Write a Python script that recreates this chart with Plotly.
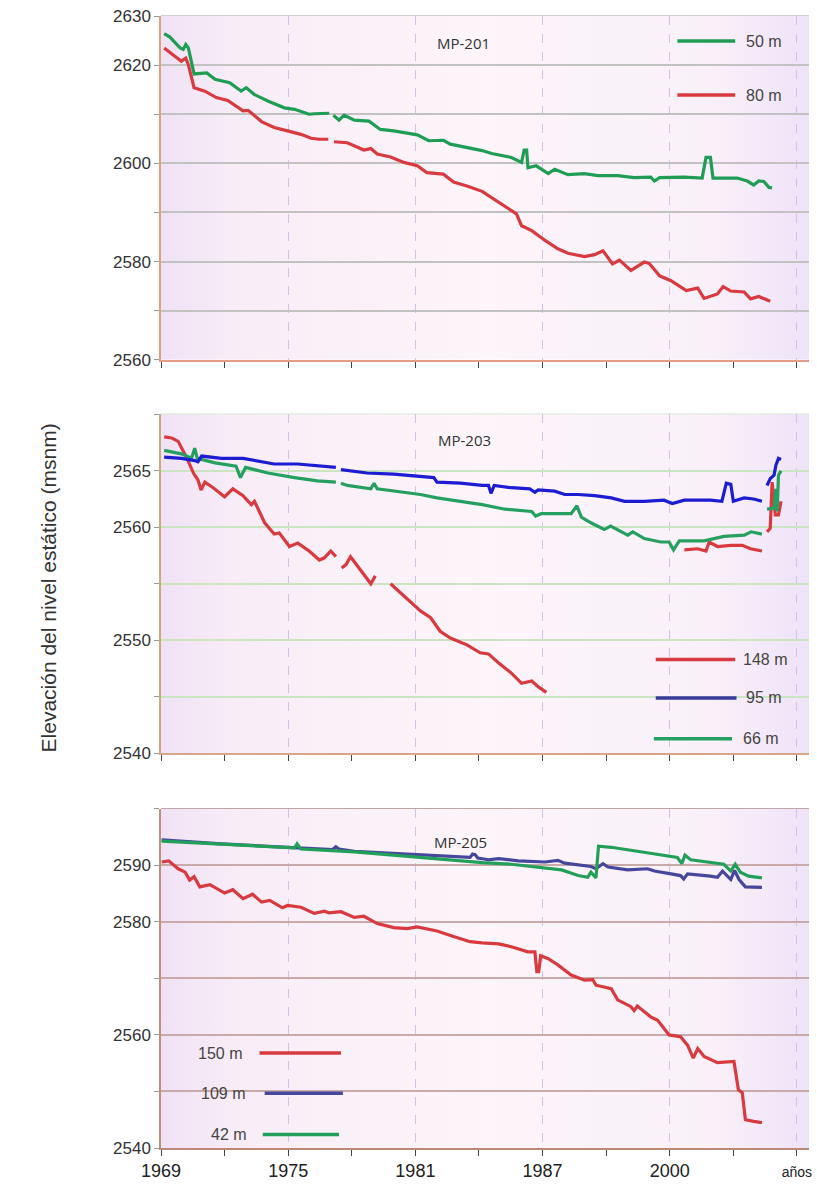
import base64
import plotly.graph_objects as go

# ---------------- data (x = position on the time axis, in tick units) ----------------
x_tickvals = [0, 2, 4, 6, 8, 10]
x_ticktext = ["1969", "1975", "1981", "1987", "2000", "<span style='font-size:14px'>años</span>"]
x_minor = [1, 3, 5, 7, 9]

# MP-201
mp201_50_x = [0.05, 0.14, 0.30, 0.35, 0.39, 0.43, 0.52, 0.72, 0.85, 0.98, 1.08, 1.26, 1.34, 1.47, 1.68, 1.94,
              2.10, 2.33, 2.41, 2.645, None, 2.71, 2.80, 2.88, 3.04, 3.27, 3.45, 3.66, 4.03, 4.21, 4.44, 4.55,
              4.81, 5.05, 5.20, 5.51, 5.67, 5.71, 5.75, 5.77, 5.90, 6.09, 6.19, 6.40, 6.66, 6.87, 7.18, 7.44,
              7.70, 7.76, 7.84, 8.23, 8.51, 8.57, 8.64, 8.68, 9.06, 9.22, 9.32, 9.40, 9.48, 9.56, 9.61]
mp201_50_y = [2626.4, 2625.7, 2623.5, 2623.2, 2624.2, 2623.5, 2618.2, 2618.4, 2617.1, 2616.7, 2616.4, 2614.7,
              2615.4, 2614.0, 2612.7, 2611.3, 2611.0, 2610.0, 2610.1, 2610.2, None, 2609.8, 2608.8, 2609.8,
              2608.8, 2608.6, 2606.9, 2606.6, 2605.8, 2604.6, 2604.7, 2603.9, 2603.2, 2602.6, 2602.0, 2601.2,
              2600.2, 2602.7, 2602.7, 2599.1, 2599.5, 2597.9, 2598.8, 2597.7, 2597.9, 2597.5, 2597.5, 2597.1,
              2597.2, 2596.4, 2597.1, 2597.2, 2597.0, 2601.2, 2601.2, 2597.0, 2597.0, 2596.4, 2595.6, 2596.4,
              2596.3, 2595.1, 2595.0]
mp201_80_x = [0.05, 0.17, 0.32, 0.39, 0.43, 0.52, 0.69, 0.87, 1.05, 1.29, 1.37, 1.58, 1.78, 1.99, 2.20, 2.36,
              2.49, 2.63, None, 2.72, 2.93, 3.19, 3.30, 3.40, 3.61, 3.82, 4.03, 4.18, 4.44, 4.60, 4.81, 5.05,
              5.31, 5.59, 5.67, 5.83, 6.04, 6.24, 6.40, 6.66, 6.82, 6.95, 7.10, 7.21, 7.39, 7.60, 7.68, 7.84,
              8.02, 8.17, 8.26, 8.44, 8.54, 8.75, 8.84, 8.96, 9.17, 9.27, 9.40, 9.58]
mp201_80_y = [2623.5, 2622.3, 2620.8, 2621.4, 2620.1, 2615.4, 2614.7, 2613.4, 2612.8, 2610.7, 2610.8, 2608.5,
              2607.3, 2606.6, 2605.9, 2605.1, 2604.9, 2604.9, None, 2604.4, 2604.2, 2602.7, 2603.0, 2601.9,
              2601.3, 2600.2, 2599.5, 2598.1, 2597.8, 2596.2, 2595.4, 2594.3, 2592.0, 2589.7, 2587.3, 2586.3,
              2584.3, 2582.6, 2581.7, 2581.0, 2581.4, 2582.2, 2579.5, 2580.3, 2578.2, 2579.9, 2579.6, 2577.1,
              2576.1, 2574.8, 2574.1, 2574.6, 2572.5, 2573.4, 2574.9, 2574.0, 2573.8, 2572.4, 2572.9, 2571.9]

# MP-203
mp203_148_x = [0.05, 0.17, 0.27, 0.40, 0.51, 0.58, 0.63, 0.69, 0.82, 1.00, 1.13, 1.29, 1.42, 1.47, 1.63, 1.78,
               1.86, 2.02, 2.15, 2.33, 2.49, 2.57, 2.67, 2.75, None,
               2.84, 2.91, 2.98, 3.14, 3.30, 3.37, None,
               3.61, 3.87, 4.08, 4.24, 4.39, 4.55, 4.81, 5.02, 5.15, 5.31, 5.51, 5.67, 5.83, 5.93, 6.06, None,
               8.23, 8.44, 8.57, 8.62, 8.75, 8.96, 9.14, 9.27, 9.45, None,
               9.53, 9.58, 9.61, 9.66, 9.71, 9.75]
mp203_148_y = [2568.0, 2567.9, 2567.6, 2566.2, 2564.8, 2564.2, 2563.3, 2564.0, 2563.5, 2562.7, 2563.4, 2562.8,
               2562.0, 2562.3, 2560.4, 2559.4, 2559.5, 2558.3, 2558.6, 2557.9, 2557.1, 2557.3, 2557.9, 2557.4, None,
               2556.4, 2556.7, 2557.4, 2556.2, 2555.0, 2555.7, None,
               2555.0, 2553.7, 2552.6, 2552.0, 2550.8, 2550.2, 2549.6, 2548.9, 2548.8, 2548.0, 2547.1, 2546.2,
               2546.4, 2545.9, 2545.4, None,
               2558.0, 2558.1, 2557.9, 2558.7, 2558.3, 2558.4, 2558.4, 2558.1, 2557.9, None,
               2559.6, 2559.9, 2564.0, 2561.1, 2561.1, 2562.3]
mp203_95_x = [0.05, 0.32, 0.53, 0.58, 0.64, 0.95, 1.29, 1.47, 1.78, 2.15, 2.51, 2.75, None,
              2.83, 3.24, 3.66, 4.08, 4.29, 4.34, 4.71, 5.05, 5.15, 5.19, 5.24, 5.51, 5.80, 5.88, 5.93, 6.19,
              6.35, 6.56, 6.82, 7.08, 7.29, 7.60, 7.91, 8.04, 8.23, 8.64, 8.82, 8.89, 8.96, 9.00, 9.17, 9.32,
              9.45, None,
              9.53, 9.58, 9.64, 9.67, 9.71, 9.75]
mp203_95_y = [2566.2, 2566.1, 2565.9, 2565.8, 2566.3, 2566.1, 2566.1, 2565.9, 2565.6, 2565.6, 2565.4, 2565.3, None,
              2565.1, 2564.8, 2564.7, 2564.5, 2564.4, 2564.0, 2563.9, 2563.7, 2563.7, 2563.0, 2563.7, 2563.5,
              2563.4, 2563.1, 2563.3, 2563.2, 2562.9, 2562.9, 2562.8, 2562.6, 2562.3, 2562.3, 2562.4, 2562.1,
              2562.4, 2562.4, 2562.3, 2563.9, 2563.8, 2562.3, 2562.6, 2562.5, 2562.3, None,
              2563.7, 2564.3, 2564.6, 2565.5, 2566.1, 2566.0]
mp203_66_x = [0.05, 0.32, 0.48, 0.53, 0.57, 0.85, 1.18, 1.25, 1.33, 1.68, 2.10, 2.46, 2.75, None,
              2.83, 2.93, 3.30, 3.35, 3.40, 3.77, 4.08, 4.34, 4.71, 5.05, 5.41, 5.83, 5.89, 5.98, 6.45, 6.54,
              6.61, 6.76, 6.97, 7.07, 7.34, 7.42, 7.60, 7.86, 7.99, 8.06, 8.15, 8.54, 8.85, 9.17, 9.28, 9.45, None,
              9.53, 9.64, 9.67, 9.69, 9.71, 9.75]
mp203_66_y = [2566.8, 2566.5, 2566.1, 2567.0, 2566.1, 2565.7, 2565.4, 2564.4, 2565.3, 2564.8, 2564.4, 2564.1,
              2564.0, None,
              2563.9, 2563.7, 2563.4, 2563.9, 2563.4, 2563.1, 2562.9, 2562.6, 2562.3, 2562.0, 2561.6, 2561.4,
              2561.0, 2561.2, 2561.2, 2561.9, 2560.9, 2560.4, 2559.8, 2560.1, 2559.3, 2559.6, 2559.0, 2558.7,
              2558.7, 2558.0, 2558.8, 2558.8, 2559.2, 2559.3, 2559.6, 2559.4, None,
              2561.6, 2561.7, 2563.4, 2561.4, 2564.6, 2565.0]

# MP-205
mp205_150_x = [0.01, 0.12, 0.27, 0.38, 0.45, 0.52, 0.61, 0.77, 1.00, 1.13, 1.29, 1.44, 1.58, 1.71, 1.91, 1.99,
               2.20, 2.41, 2.57, 2.64, 2.83, 3.04, 3.19, 3.40, 3.66, 3.87, 4.03, 4.34, 4.60, 4.86, 5.05, 5.31,
               5.51, 5.77, 5.88, 5.91, 5.94, 5.97, 6.09, 6.24, 6.45, 6.66, 6.79, 6.84, 7.08, 7.18, 7.39, 7.44,
               7.49, 7.70, 7.81, 7.99, 8.17, 8.28, 8.37, 8.44, 8.54, 8.75, 9.01, 9.08, 9.14, 9.19, 9.32, 9.45]
mp205_150_y = [2590.6, 2590.8, 2589.4, 2588.8, 2587.4, 2588.0, 2586.2, 2586.6, 2585.1, 2585.7, 2584.1, 2584.9,
               2583.5, 2583.8, 2582.5, 2582.9, 2582.6, 2581.5, 2581.9, 2581.6, 2581.8, 2580.8, 2581.0, 2579.7,
               2579.0, 2578.8, 2579.1, 2578.4, 2577.4, 2576.5, 2576.3, 2576.1, 2575.6, 2574.7, 2574.7, 2571.2,
               2571.2, 2574.0, 2573.5, 2572.4, 2570.6, 2569.7, 2569.8, 2568.8, 2568.2, 2566.2, 2565.0, 2564.3,
               2565.1, 2563.2, 2562.6, 2560.0, 2559.7, 2558.2, 2555.9, 2557.6, 2556.2, 2555.1, 2555.3, 2550.3,
               2549.8, 2545.0, 2544.7, 2544.5]
mp205_109_x = [0.01, 0.95, 1.99, 2.62, 2.70, 2.75, 2.80, 3.04, 4.08, 4.86, 4.90, 4.94, 4.98, 5.15, 5.31, 5.62,
               6.04, 6.24, 6.35, 6.76, 6.84, 6.95, 7.03, 7.34, 7.65, 7.76, 8.02, 8.17, 8.22, 8.28, 8.64, 8.75,
               8.83, 8.96, 9.02, 9.09, 9.19, 9.45]
mp205_109_y = [2594.5, 2593.8, 2593.2, 2592.8, 2592.8, 2593.3, 2592.9, 2592.5, 2591.8, 2591.4, 2592.0, 2591.9,
               2591.3, 2591.0, 2591.2, 2590.8, 2590.6, 2590.9, 2590.4, 2589.8, 2589.4, 2590.3, 2589.7, 2589.2,
               2589.4, 2589.0, 2588.5, 2588.2, 2587.6, 2588.5, 2588.1, 2587.9, 2589.0, 2587.5, 2589.1, 2587.5,
               2586.2, 2586.1]
mp205_42_x = [0.01, 0.95, 1.99, 2.10, 2.14, 2.18, 2.20, 3.04, 4.08, 5.05, 5.51, 6.04, 6.30, 6.56, 6.71, 6.76,
              6.84, 6.88, 7.08, 7.49, 7.81, 8.12, 8.19, 8.24, 8.33, 8.75, 8.85, 8.96, 9.03, 9.11, 9.24, 9.45]
mp205_42_y = [2594.3, 2593.7, 2593.1, 2593.1, 2593.8, 2593.1, 2592.9, 2592.4, 2591.4, 2590.5, 2590.2, 2589.6,
              2589.2, 2588.2, 2587.9, 2588.8, 2587.8, 2593.4, 2593.2, 2592.5, 2591.9, 2591.4, 2590.3, 2591.8,
              2591.0, 2590.3, 2590.2, 2589.0, 2590.2, 2588.8, 2588.1, 2587.8]

# ---------------- styles ----------------
GREEN = "#1f9d55"
RED = "#d93a40"
BLUE_MID = "#1c1cd2"
BLUE_BOT = "#46469c"
LEG_BLUE_MID = "#3b3b9e"

fig = go.Figure()

def add(xs, ys, color, xa, ya, name):
    fig.add_trace(go.Scatter(x=xs, y=ys, mode="lines", name=name, showlegend=False,
                             connectgaps=False, xaxis=xa, yaxis=ya,
                             line=dict(color=color, width=3.2)))

add(mp201_50_x, mp201_50_y, GREEN, "x", "y", "50 m")
add(mp201_80_x, mp201_80_y, RED, "x", "y", "80 m")
add(mp203_148_x, mp203_148_y, RED, "x2", "y2", "148 m")
add(mp203_66_x, mp203_66_y, "#26a060", "x2", "y2", "66 m")
add(mp203_95_x, mp203_95_y, BLUE_MID, "x2", "y2", "95 m")
add(mp205_150_x, mp205_150_y, RED, "x3", "y3", "150 m")
add(mp205_109_x, mp205_109_y, BLUE_BOT, "x3", "y3", "109 m")
add(mp205_42_x, mp205_42_y, "#22a05a", "x3", "y3", "42 m")

XR = [0, 10.19]

def xaxis(anchor, labels, linecolor):
    return dict(domain=[0, 1], anchor=anchor, range=XR, tickmode="array",
                tickvals=x_tickvals, ticktext=x_ticktext, showticklabels=labels,
                ticks="outside", ticklen=6, tickwidth=1.3, tickcolor="#444",
                tickfont=dict(family="Liberation Sans, Arial", size=18, color="#222"),
                showgrid=True, gridcolor="#d6bfe6", griddash="dash", gridwidth=1,
                showline=True, linecolor=linecolor, linewidth=1.5, zeroline=False,
                minor=dict(tickvals=x_minor, ticks="outside", ticklen=6, tickwidth=1.3,
                           tickcolor="#444", showgrid=False))

def yaxis(domain, anchor, rng, vals, texts, gridcolor, linecolor):
    return dict(domain=domain, anchor=anchor, range=rng, tickmode="array",
                tickvals=vals, ticktext=texts, ticks="outside", ticklen=5, tickwidth=1.2,
                tickcolor="#999", tickfont=dict(family="Liberation Sans, Arial", size=17, color="#333"),
                showgrid=True, gridcolor=gridcolor, gridwidth=1.5, showline=True,
                linecolor=linecolor, linewidth=1.5, zeroline=False)

y1_vals = [2560, 2570, 2580, 2590, 2600, 2610, 2620, 2630]
y1_text = ["2560", "", "2580", "", "2600", "", "2620", "2630"]
y2_vals = [2540, 2545, 2550, 2555, 2560, 2565, 2570]
y2_text = ["2540", "", "2550", "", "2560", "2565", ""]
y3_vals = [2540, 2550, 2560, 2570, 2580, 2590, 2600]
y3_text = ["2540", "", "2560", "", "2580", "2590", ""]

# gradient background (svg data uri)
svg = ('<svg xmlns="http://www.w3.org/2000/svg" width="100" height="100" preserveAspectRatio="none">'
       '<defs><linearGradient id="g" x1="0" y1="0" x2="1" y2="0">'
       '<stop offset="0" stop-color="#f0e2f5"/><stop offset="0.12" stop-color="#f8edf7"/>'
       '<stop offset="0.5" stop-color="#fdf5fa"/><stop offset="0.85" stop-color="#f9f0f9"/>'
       '<stop offset="1" stop-color="#efe3f8"/></linearGradient></defs>'
       '<rect width="100" height="100" fill="url(#g)"/></svg>')
src = "data:image/svg+xml;base64," + base64.b64encode(svg.encode()).decode()
images = [dict(source=src, xref=f"{xa} domain", yref=f"{ya} domain", x=0, y=1, sizex=1, sizey=1,
               sizing="stretch", xanchor="left", yanchor="top", layer="below")
          for xa, ya in [("x", "y"), ("x2", "y2"), ("x3", "y3")]]

fig.update_layout(
    width=817, height=1186,
    margin=dict(l=161, r=5, t=16, b=34),
    paper_bgcolor="white", plot_bgcolor="rgba(0,0,0,0)",
    images=images,
    xaxis=xaxis("y", False, "#e39d88"),
    xaxis2=xaxis("y2", False, "#d9a58a"),
    xaxis3=xaxis("y3", True, "#b98a78"),
    yaxis=yaxis([0.6963, 1.0], "x", [2560, 2630], y1_vals, y1_text, "#c2c2c2", "#d9a47c"),
    yaxis2=yaxis([0.3486, 0.6482], "x2", [2540, 2570], y2_vals, y2_text, "#cbe5c3", "#c9a97e"),
    yaxis3=yaxis([0.0, 0.2996], "x3", [2540, 2600], y3_vals, y3_text, "#c9aaaa", "#b89178"),
)

# top borders of each panel
for xa, ya, col in [("x", "y", "#c2c2c2"), ("x2", "y2", "#d4e6cf"), ("x3", "y3", "#bda3a3")]:
    fig.add_shape(type="line", xref=f"{xa} domain", yref=f"{ya} domain", x0=0, x1=1, y0=1, y1=1,
                  line=dict(color=col, width=1.5), layer="below")

# panel titles
for txt, xa, ya, xv, yv in [("MP-201", "x", "y", 4.76, 0.956), ("MP-203", "x2", "y2", 4.78, 0.958),
                            ("MP-205", "x3", "y3", 4.71, 0.938)]:
    fig.add_annotation(text=txt, x=xv, y=yv, xref=xa, yref=f"{ya} domain", showarrow=False,
                       font=dict(family="Open Sans", size=15, color="#333"))

# legends (sample lines + labels)
legend_items = [
    # xref, yref, x0, x1, y, color, label, label_x, anchor
    ("x", "y", 8.12, 9.03, 2624.9, GREEN, "50 m", 9.17, "left"),
    ("x", "y", 8.12, 9.03, 2613.9, RED, "80 m", 9.17, "left"),
    ("x2", "y2", 7.78, 9.03, 2548.3, RED, "148 m", 9.12, "left"),
    ("x2", "y2", 7.78, 9.05, 2544.9, LEG_BLUE_MID, "95 m", 9.17, "left"),
    ("x2", "y2", 7.75, 8.98, 2541.3, "#26a060", "66 m", 9.12, "left"),
    ("x3", "y3", 1.55, 2.83, 2556.8, RED, "150 m", 1.30, "right"),
    ("x3", "y3", 1.63, 2.86, 2549.7, BLUE_BOT, "109 m", 1.36, "right"),
    ("x3", "y3", 1.60, 2.80, 2542.4, "#22a05a", "42 m", 1.38, "right"),
]
for xa, ya, x0, x1, yv, col, lab, lx, anc in legend_items:
    fig.add_shape(type="line", xref=xa, yref=ya, x0=x0, x1=x1, y0=yv, y1=yv,
                  line=dict(color=col, width=3.5))
    fig.add_annotation(text=lab, x=lx, y=yv, xref=xa, yref=ya, showarrow=False, xanchor=anc,
                       font=dict(family="Liberation Sans, Arial", size=16, color="#444"))

# y-axis title
fig.add_annotation(text="Elevación del nivel estático (msnm)", xref="paper", yref="paper",
                   x=-0.194, y=0.495, textangle=-90, showarrow=False,
                   font=dict(family="Liberation Sans, Arial", size=21, color="#333"))

fig.write_html("out.html")
